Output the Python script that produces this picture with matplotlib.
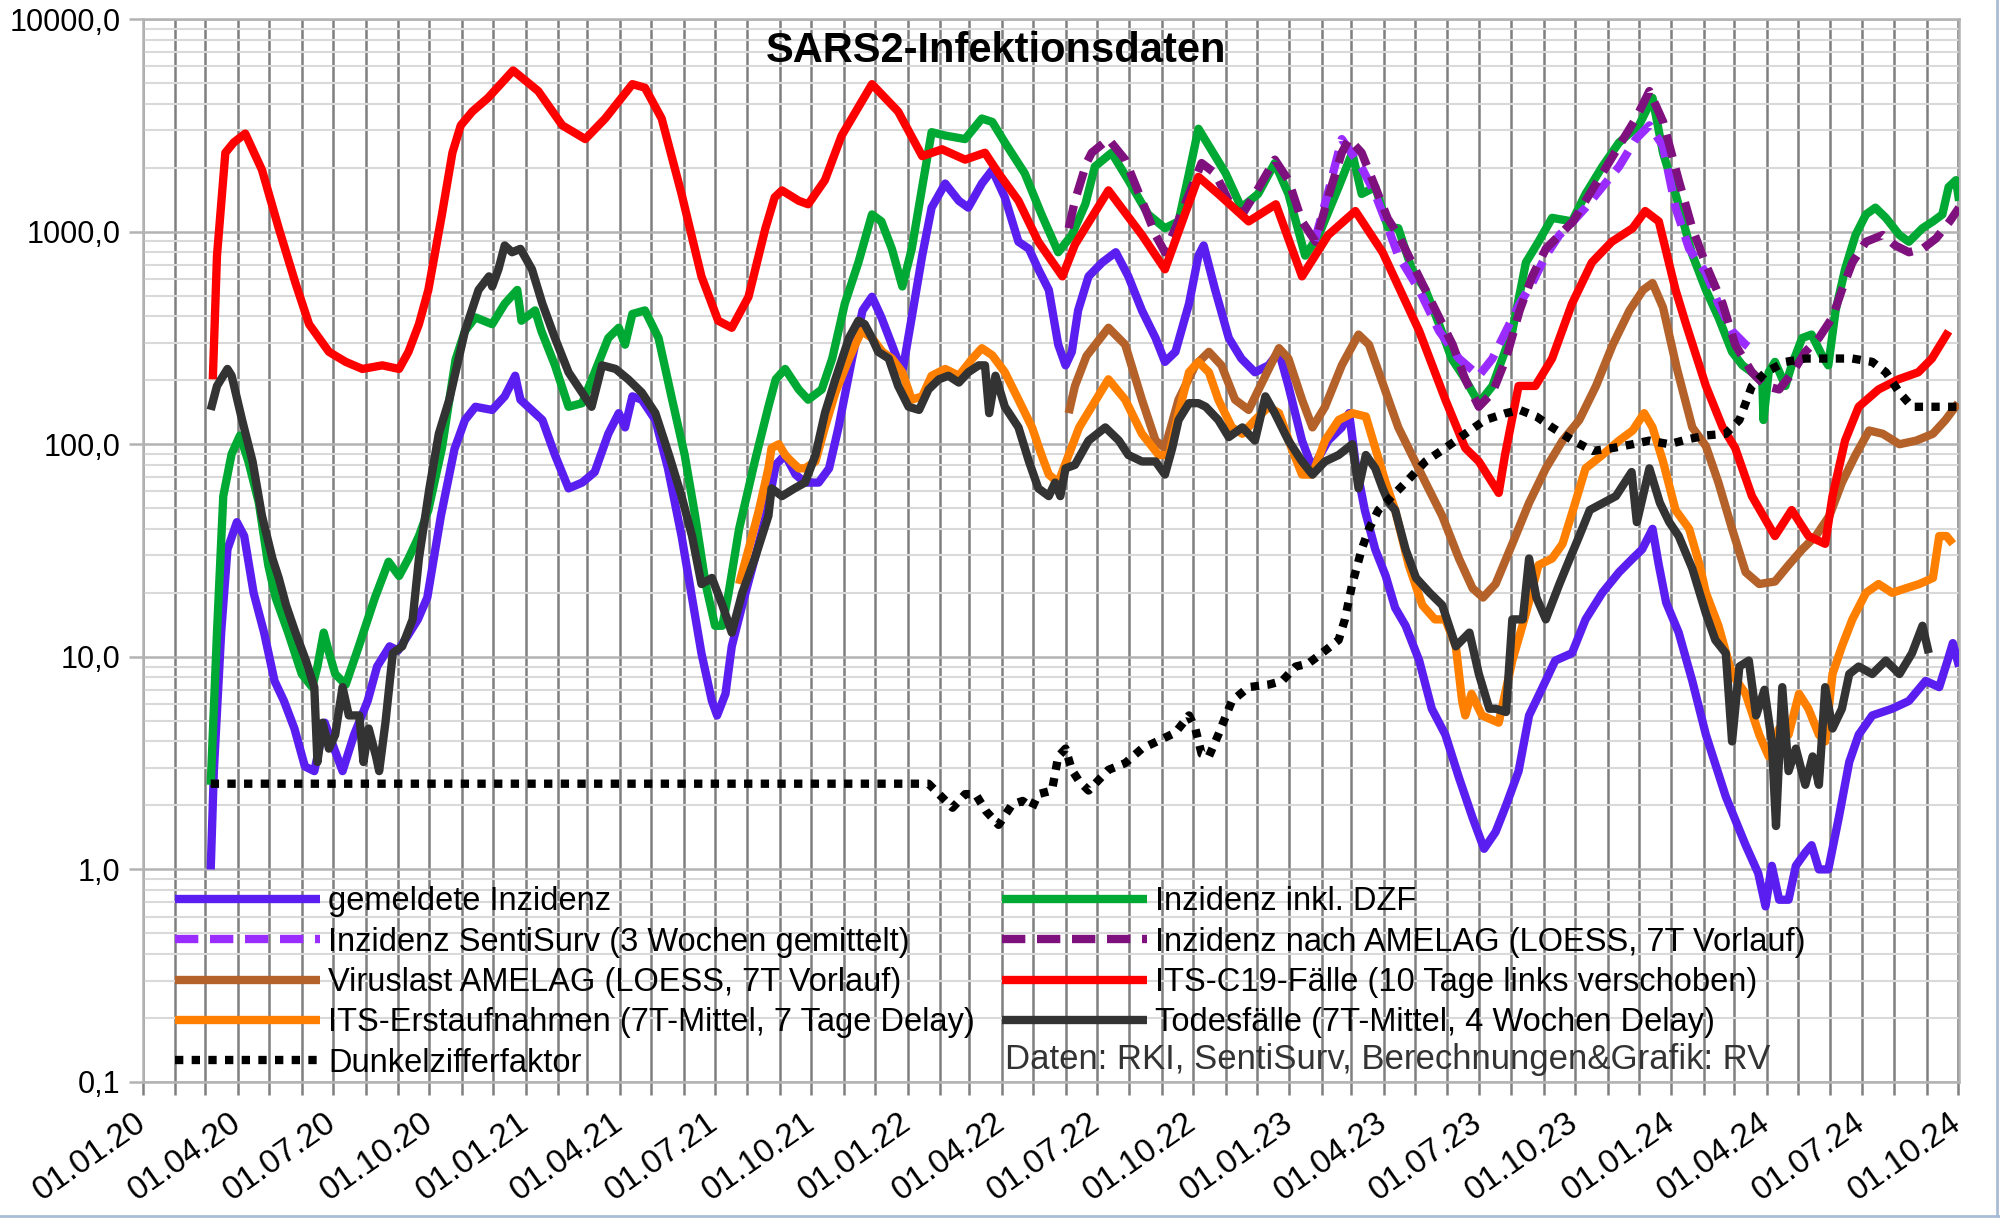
import numpy as np
import matplotlib
matplotlib.use('Agg')
import matplotlib.pyplot as plt
import matplotlib.dates as mdates
from matplotlib.ticker import LogLocator, FuncFormatter, NullFormatter
from matplotlib.lines import Line2D

# ---------------- data (x = days since 01.01.2020) ----------------
gemeldet_day = [65, 68, 75, 81, 90, 97, 106, 116, 126, 135, 145, 155, 164, 174, 183, 191, 202, 215, 224, 236, 244, 253, 263, 272, 285, 298, 308, 318, 334, 346, 356, 361, 382, 394, 407, 420, 432, 445, 455, 461, 468, 477, 490, 502, 515, 525, 534, 544, 549, 557, 563, 573, 585, 597, 605, 614, 624, 633, 646, 656, 665, 678, 688, 697, 706, 716, 726, 735, 745, 754, 767, 780, 789, 802, 812, 824, 837, 847, 856, 866, 875, 882, 888, 894, 904, 917, 930, 942, 955, 968, 977, 987, 1000, 1009, 1014, 1025, 1038, 1050, 1063, 1076, 1086, 1095, 1108, 1118, 1133, 1146, 1153, 1159, 1168, 1178, 1188, 1197, 1207, 1220, 1232, 1245, 1258, 1271, 1282, 1293, 1303, 1315, 1325, 1338, 1350, 1366, 1379, 1395, 1411, 1424, 1433, 1443, 1449, 1456, 1468, 1481, 1494, 1513, 1532, 1544, 1551, 1557, 1564, 1573, 1580, 1589, 1595, 1602, 1611, 1621, 1631, 1640, 1653, 1672, 1688, 1704, 1717, 1725, 1730, 1736]
gemeldet_val = [1.0, 2.9, 13, 32, 43, 37, 20, 13, 7.7, 6.2, 4.6, 3.05, 2.9, 4.9, 3.7, 2.9, 4.3, 6.2, 9.0, 11.2, 10.7, 12.5, 15, 19, 46, 95, 130, 150, 145, 168, 210, 162, 130, 89, 62, 66, 74, 112, 140, 120, 168, 162, 130, 77, 37, 19, 10.4, 6.2, 5.3, 6.7, 11.2, 17.5, 29, 49, 80, 89, 72, 66, 66, 77, 120, 253, 426, 494, 395, 294, 218, 395, 771, 1297, 1683, 1397, 1297, 1683, 1951, 1449, 896, 830, 665, 532, 294, 235, 272, 426, 616, 716, 800, 616, 426, 316, 244, 272, 458, 771, 861, 532, 316, 253, 218, 235, 272, 188, 104, 77, 104, 120, 140, 83, 49, 32, 24, 17, 14, 9.6, 5.7, 4.3, 2.7, 1.75, 1.25, 1.5, 2.0, 2.9, 5.3, 7.2, 9.6, 10.4, 15, 20, 25, 29, 32, 40, 27, 18, 13, 7.7, 4.3, 2.2, 1.3, 0.96, 0.67, 1.04, 0.72, 0.72, 1.04, 1.2, 1.3, 1.0, 1.0, 1.75, 3.2, 4.3, 5.3, 5.7, 6.2, 7.7, 7.2, 9.6, 11.6, 9.0]

dzf_day = [65, 71, 77, 85, 93, 101, 111, 120, 127, 139, 152, 162, 167, 173, 178, 184, 194, 206, 222, 235, 245, 254, 264, 273, 286, 299, 308, 318, 334, 346, 358, 362, 375, 381, 394, 407, 420, 432, 445, 455, 461, 468, 480, 493, 506, 518, 528, 538, 547, 554, 560, 570, 585, 598, 605, 614, 627, 636, 649, 659, 671, 684, 697, 706, 716, 726, 735, 745, 754, 767, 786, 802, 812, 824, 843, 859, 875, 888, 901, 910, 926, 942, 961, 977, 990, 1000, 1009, 1019, 1035, 1050, 1066, 1082, 1095, 1111, 1124, 1143, 1156, 1165, 1178, 1190, 1200, 1213, 1226, 1239, 1251, 1264, 1277, 1290, 1309, 1322, 1334, 1347, 1366, 1379, 1395, 1411, 1430, 1443, 1453, 1465, 1481, 1494, 1506, 1519, 1529, 1538, 1548, 1549, 1554, 1560, 1570, 1576, 1586, 1595, 1605, 1611, 1618, 1627, 1637, 1647, 1656, 1666, 1679, 1688, 1701, 1711, 1720, 1726, 1733, 1736]
dzf_val = [2.5, 13, 57, 90, 110, 83, 53, 27, 19, 13, 8.3, 7.2, 9, 13, 10.5, 8.3, 7.4, 11, 19, 28, 24, 29, 37, 49, 96, 250, 341, 395, 367, 458, 532, 381, 426, 341, 235, 150, 156, 218, 316, 353, 294, 410, 426, 316, 162, 89, 46, 22, 14, 14, 20, 40, 83, 150, 202, 226, 181, 162, 181, 253, 458, 716, 1205, 1117, 830, 552, 830, 1622, 2937, 2831, 2725, 3404, 3280, 2626, 1880, 1205, 800, 964, 1350, 2023, 2350, 1746, 1205, 1038, 1117, 1880, 3048, 2530, 1880, 1297, 1504, 2102, 1504, 771, 964, 1622, 2350, 1504, 1622, 1050, 1038, 665, 532, 367, 253, 202, 156, 188, 341, 716, 896, 1161, 1117, 1504, 2023, 2626, 3162, 4256, 2350, 1504, 780, 532, 395, 272, 235, 218, 195, 130, 218, 244, 188, 235, 316, 328, 262, 235, 426, 665, 964, 1205, 1297, 1161, 964, 896, 1038, 1117, 1205, 1622, 1746, 1397]

sentisurv_day = [1120, 1134, 1146, 1165, 1178, 1188, 1200, 1220, 1239, 1258, 1277, 1290, 1303, 1316, 1328, 1341, 1354, 1367, 1379, 1395, 1411, 1427, 1440, 1453, 1465, 1478, 1494, 1506, 1519, 1532, 1541]
sentisurv_val = [900, 1600, 2725, 2000, 1500, 1117, 771, 532, 341, 253, 210, 253, 341, 458, 573, 771, 964, 1117, 1297, 1622, 2023, 2725, 3162, 2530, 1297, 830, 640, 458, 341, 294, 272]

amelag_inz_day = [885, 891, 902, 907, 923, 939, 955, 968, 977, 987, 1000, 1012, 1025, 1038, 1051, 1067, 1082, 1095, 1108, 1121, 1134, 1146, 1153, 1165, 1178, 1190, 1200, 1213, 1226, 1239, 1252, 1264, 1277, 1290, 1303, 1316, 1328, 1341, 1354, 1367, 1379, 1395, 1411, 1427, 1440, 1453, 1468, 1481, 1494, 1510, 1522, 1538, 1551, 1564, 1577, 1589, 1602, 1615, 1624, 1634, 1647, 1663, 1675, 1688, 1701, 1714, 1727, 1736]
amelag_inz_val = [1038, 1400, 2102, 2350, 2725, 2181, 1397, 964, 800, 1038, 1504, 2102, 1880, 1397, 1205, 1622, 2181, 1746, 1117, 896, 1504, 2350, 2725, 2350, 1622, 1150, 964, 716, 532, 395, 294, 202, 150, 175, 253, 426, 616, 830, 964, 1117, 1397, 1880, 2530, 3404, 4585, 3300, 1746, 1038, 700, 458, 294, 218, 188, 181, 218, 272, 316, 395, 532, 716, 896, 964, 861, 800, 830, 929, 1117, 1297]

viruslast_day = [885, 891, 902, 923, 939, 955, 968, 977, 990, 1006, 1019, 1031, 1044, 1057, 1073, 1086, 1095, 1108, 1118, 1130, 1146, 1162, 1172, 1186, 1200, 1213, 1226, 1242, 1258, 1271, 1281, 1293, 1309, 1325, 1341, 1357, 1373, 1389, 1405, 1421, 1434, 1443, 1453, 1466, 1481, 1494, 1506, 1519, 1532, 1545, 1560, 1573, 1586, 1599, 1612, 1624, 1637, 1650, 1663, 1679, 1695, 1711, 1723, 1735]
viruslast_val = [140, 188, 260, 353, 294, 162, 104, 96, 162, 235, 272, 235, 162, 145, 210, 283, 253, 162, 120, 150, 235, 328, 294, 188, 120, 89, 66, 46, 29, 21, 19, 22, 34, 53, 77, 104, 130, 188, 294, 426, 532, 573, 440, 230, 120, 98, 66, 40, 25, 22, 22.6, 27, 32, 37, 46, 66, 89, 116, 112, 100, 104, 112, 130, 156]

its_day = [67, 71, 79, 87, 98, 114, 130, 146, 159, 178, 194, 210, 229, 245, 254, 264, 273, 286, 296, 304, 315, 330, 354, 378, 401, 423, 442, 468, 480, 496, 515, 534, 550, 563, 579, 595, 604, 611, 627, 636, 652, 668, 697, 722, 745, 764, 786, 805, 818, 837, 856, 879, 891, 923, 955, 977, 1009, 1028, 1057, 1083, 1108, 1133, 1159, 1185, 1220, 1245, 1264, 1277, 1296, 1302, 1315, 1331, 1347, 1366, 1385, 1404, 1424, 1436, 1449, 1465, 1475, 1494, 1510, 1522, 1538, 1560, 1576, 1592, 1608, 1615, 1627, 1640, 1659, 1678, 1697, 1710, 1726]
its_val = [202, 771, 2350, 2626, 2893, 1951, 1038, 573, 367, 272, 244, 226, 235, 226, 272, 367, 532, 1205, 2350, 3162, 3672, 4256, 5730, 4585, 3162, 2725, 3404, 4940, 4755, 3404, 1504, 616, 381, 353, 494, 1030, 1450, 1563, 1397, 1345, 1746, 2831, 4940, 3672, 2265, 2440, 2181, 2350, 1880, 1397, 896, 616, 870, 1563, 964, 665, 1811, 1504, 1117, 1345, 616, 964, 1250, 800, 341, 162, 96, 83, 59, 89, 188, 188, 253, 458, 716, 896, 1038, 1250, 1117, 532, 367, 188, 120, 96, 57, 37, 49, 37, 34, 57, 104, 150, 181, 202, 218, 253, 340]

its_neu_day = [570, 579, 589, 598, 601, 608, 614, 620, 627, 633, 643, 652, 662, 675, 687, 697, 707, 716, 726, 735, 745, 754, 767, 780, 793, 802, 812, 824, 837, 850, 859, 866, 875, 885, 895, 907, 923, 939, 955, 971, 981, 990, 1000, 1009, 1019, 1028, 1041, 1051, 1063, 1076, 1086, 1098, 1108, 1118, 1130, 1143, 1156, 1169, 1178, 1188, 1197, 1210, 1223, 1235, 1245, 1255, 1261, 1264, 1270, 1280, 1296, 1309, 1322, 1334, 1347, 1357, 1367, 1379, 1395, 1411, 1424, 1435, 1443, 1453, 1465, 1478, 1488, 1494, 1506, 1519, 1532, 1545, 1554, 1564, 1573, 1583, 1592, 1602, 1608, 1615, 1624, 1634, 1647, 1659, 1672, 1685, 1698, 1711, 1717, 1724, 1730]
its_neu_val = [22, 32, 49, 77, 96, 100, 89, 83, 77, 77, 83, 120, 175, 253, 341, 316, 272, 253, 218, 162, 168, 210, 226, 210, 253, 283, 262, 218, 162, 120, 89, 72, 66, 89, 120, 150, 202, 162, 112, 89, 89, 140, 218, 244, 218, 162, 120, 112, 130, 150, 140, 96, 72, 72, 104, 130, 140, 135, 96, 66, 49, 27, 17.5, 15, 15, 11.2, 6.2, 5.3, 6.7, 5.3, 4.9, 9.6, 16, 27, 29, 34, 49, 77, 89, 104, 116, 140, 120, 83, 49, 40, 27, 20, 14, 8.3, 6.7, 4.3, 3.4, 4.6, 4.3, 6.7, 5.7, 4.3, 4.0, 8.3, 11.2, 15, 20, 22, 20, 21, 22, 23.5, 37, 37, 34]

tod_day = [65, 71, 81, 85, 95, 105, 114, 124, 130, 137, 146, 156, 164, 167, 172, 178, 184, 191, 197, 207, 211, 216, 223, 226, 232, 239, 248, 258, 264, 274, 283, 293, 299, 308, 321, 331, 334, 340, 346, 353, 361, 372, 382, 394, 407, 420, 429, 439, 452, 464, 477, 490, 503, 515, 525, 534, 544, 554, 563, 573, 585, 598, 601, 611, 623, 633, 643, 652, 662, 675, 684, 690, 697, 703, 713, 722, 732, 742, 751, 761, 770, 780, 789, 799, 805, 809, 815, 824, 837, 847, 856, 866, 872, 877, 882, 891, 904, 920, 933, 942, 955, 968, 977, 984, 990, 1000, 1009, 1016, 1028, 1038, 1051, 1063, 1073, 1082, 1095, 1108, 1118, 1130, 1143, 1156, 1162, 1169, 1178, 1185, 1191, 1197, 1207, 1217, 1230, 1242, 1255, 1268, 1277, 1287, 1293, 1303, 1309, 1319, 1325, 1332, 1341, 1354, 1364, 1373, 1383, 1396, 1408, 1423, 1428, 1440, 1450, 1459, 1468, 1481, 1494, 1503, 1513, 1519, 1526, 1535, 1542, 1550, 1557, 1561, 1567, 1573, 1580, 1589, 1596, 1602, 1608, 1615, 1624, 1631, 1640, 1653, 1666, 1679, 1691, 1701, 1707]
tod_val = [145, 188, 226, 210, 130, 83, 46, 29, 23.5, 17.5, 13, 9.6, 7.2, 3.2, 4.9, 3.7, 4.3, 7.2, 5.3, 5.3, 3.2, 4.6, 3.4, 2.9, 4.9, 10.4, 11.2, 15, 29, 62, 112, 162, 218, 341, 532, 616, 552, 665, 861, 800, 830, 665, 458, 316, 218, 175, 150, 235, 226, 202, 175, 140, 89, 57, 37, 22, 23.5, 17.5, 13, 20, 29, 46, 62, 57, 62, 66, 89, 140, 202, 316, 381, 367, 316, 272, 253, 188, 150, 145, 181, 202, 210, 195, 218, 235, 235, 140, 210, 150, 120, 83, 62, 57, 66, 57, 77, 80, 104, 120, 104, 89, 83, 83, 72, 96, 130, 156, 156, 150, 130, 108, 120, 104, 168, 140, 104, 83, 72, 83, 89, 100, 62, 89, 77, 62, 53, 49, 32, 23.5, 20, 17.5, 11.2, 13, 8.3, 5.7, 5.7, 5.5, 15, 15, 29, 19, 15, 22, 29, 37, 49, 53, 57, 74, 43, 77, 53, 43, 37, 26, 16, 12, 10.4, 4.0, 9.0, 9.6, 5.3, 7.0, 4.0, 1.6, 7.2, 2.9, 3.7, 2.5, 3.4, 2.5, 7.2, 4.6, 5.7, 8.3, 9.0, 8.3, 9.6, 8.3, 10.4, 14, 10.4]

dzf_faktor_day = [65, 751, 761, 774, 786, 796, 806, 818, 831, 841, 850, 856, 869, 875, 882, 888, 895, 904, 923, 939, 955, 974, 987, 1000, 1006, 1012, 1019, 1028, 1041, 1057, 1076, 1089, 1102, 1114, 1127, 1143, 1149, 1156, 1165, 1172, 1181, 1191, 1207, 1226, 1245, 1264, 1283, 1303, 1316, 1332, 1347, 1367, 1386, 1405, 1424, 1440, 1459, 1475, 1494, 1513, 1526, 1538, 1551, 1570, 1589, 1615, 1634, 1653, 1666, 1679, 1691, 1711, 1736]
dzf_faktor_val = [2.53, 2.53, 2.26, 1.95, 2.26, 2.26, 1.88, 1.62, 2.02, 2.1, 1.95, 2.26, 2.35, 3.4, 3.7, 2.94, 2.6, 2.35, 2.94, 3.16, 3.7, 4.1, 4.4, 5.3, 4.6, 3.5, 3.4, 4.3, 6.2, 7.2, 7.4, 7.7, 9.0, 9.3, 10.4, 12, 15, 22, 32, 40, 49, 55, 66, 83, 96, 112, 130, 140, 145, 135, 120, 104, 93, 96, 100, 104, 100, 105, 110, 112, 130, 188, 218, 244, 253, 253, 253, 244, 218, 175, 150, 150, 150]

y_ticks = [0.1, 1, 10, 100, 1000, 10000]
title = 'SARS2-Infektionsdaten'
source = 'Daten: RKI, SentiSurv, Berechnungen&Grafik: RV'

# ---------------- styling ----------------
plt.rcParams['font.family'] = ['Liberation Sans', 'DejaVu Sans']

start = np.datetime64('2020-01-01')


def to_dates(days):
    return start + np.array(days, dtype='timedelta64[D]')


fig = plt.figure(figsize=(20, 12.18), dpi=100)
ax = fig.add_axes([0.07135, 0.11166, 0.9082, 0.8727])
ax.set_yscale('log')
ax.set_ylim(0.1, 10000)
ax.set_xlim(np.datetime64('2020-01-01'), np.datetime64('2024-10-02'))

LW = 6.0
DASH = (0, (2.8, 1.4))
DOT = (0, (1, 1))
series = [
    ('gemeldete Inzidenz', gemeldet_day, gemeldet_val, '#5a1ff0', '-'),
    ('Inzidenz inkl. DZF', dzf_day, dzf_val, '#00a933', '-'),
    ('Inzidenz SentiSurv (3 Wochen gemittelt)', sentisurv_day, sentisurv_val, '#9a2cff', DASH),
    ('Inzidenz nach AMELAG (LOESS, 7T Vorlauf)', amelag_inz_day, amelag_inz_val, '#7f117f', DASH),
    ('Viruslast AMELAG (LOESS, 7T Vorlauf)', viruslast_day, viruslast_val, '#b4612a', '-'),
    ('ITS-C19-Fälle (10 Tage links verschoben)', its_day, its_val, '#ff0000', '-'),
    ('ITS-Erstaufnahmen (7T-Mittel, 7 Tage Delay)', its_neu_day, its_neu_val, '#ff8000', '-'),
    ('Todesfälle (7T-Mittel, 4 Wochen Delay)', tod_day, tod_val, '#333333', '-'),
    ('Dunkelzifferfaktor', dzf_faktor_day, dzf_faktor_val, '#000000', DOT),
]

handles = {}
for label, d, v, c, ls in series:
    ln, = ax.plot(to_dates(d), v, color=c, lw=LW, linestyle=ls,
                  solid_joinstyle='round', solid_capstyle='butt', dash_capstyle='butt',
                  label=label, zorder=3)
    handles[label] = ln

# ticks / grid
ax.xaxis.set_major_locator(mdates.MonthLocator(bymonth=(1, 4, 7, 10)))
ax.xaxis.set_minor_locator(mdates.MonthLocator())
ax.xaxis.set_major_formatter(mdates.DateFormatter('%d.%m.%y'))
ax.set_yticks(y_ticks)
ax.yaxis.set_minor_locator(LogLocator(base=10, subs=np.arange(2, 10), numticks=20))
ax.yaxis.set_minor_formatter(NullFormatter())
ax.yaxis.set_major_formatter(FuncFormatter(lambda v, p: f'{v:.1f}'.replace('.', ',')))

ax.grid(which='major', axis='x', color='#7f7f7f', lw=1.8, zorder=0)
ax.grid(which='minor', axis='x', color='#7f7f7f', lw=1.8, zorder=0)
ax.grid(which='major', axis='y', color='#b3b3b3', lw=1.8, zorder=0)
ax.grid(which='minor', axis='y', color='#d9d9d9', lw=1.5, zorder=0)
ax.set_axisbelow(True)

for s in ax.spines.values():
    s.set_color('#b3b3b3')
    s.set_linewidth(1.8)

ax.tick_params(axis='y', which='major', length=10, width=1.8, color='#b3b3b3',
               labelsize=22, pad=6)
ax.tick_params(axis='y', which='minor', length=0)
ax.tick_params(axis='x', which='both', length=9.5, width=1.8, color='#7f7f7f',
               labelsize=24, pad=18)
for lab in ax.get_xticklabels():
    lab.set_rotation(35)
    lab.set_ha('right')
    lab.set_va('center')
    lab.set_rotation_mode('anchor')

# title and source
ax.text(0.470, 0.970, title, transform=ax.transAxes, ha='center', va='center',
        fontsize=30, fontweight='bold', zorder=5)
ax.text(0.475, 0.0207, source, transform=ax.transAxes, ha='left', va='center',
        fontsize=25, color='#333333', zorder=5)

# legends (two columns)
left_labels = ['gemeldete Inzidenz', 'Inzidenz SentiSurv (3 Wochen gemittelt)',
               'Viruslast AMELAG (LOESS, 7T Vorlauf)',
               'ITS-Erstaufnahmen (7T-Mittel, 7 Tage Delay)', 'Dunkelzifferfaktor']
right_labels = ['Inzidenz inkl. DZF', 'Inzidenz nach AMELAG (LOESS, 7T Vorlauf)',
                'ITS-C19-Fälle (10 Tage links verschoben)',
                'Todesfälle (7T-Mittel, 4 Wochen Delay)']
common = dict(frameon=False, fontsize=23.5, handlelength=4.45, handletextpad=0.25,
              labelspacing=0.285, borderpad=0, borderaxespad=0, loc='upper left')
leg1 = ax.legend([handles[l] for l in left_labels], left_labels,
                 bbox_to_anchor=(0.0178, 0.1840), **common)
ax.add_artist(leg1)
leg2 = ax.legend([handles[l] for l in right_labels], right_labels,
                 bbox_to_anchor=(0.473, 0.1840), **common)
for lg in (leg1, leg2):
    lg.set_zorder(6)

# thin frame at bottom/right of the image
fig.add_artist(Line2D([0, 1], [0.0015, 0.0015], transform=fig.transFigure,
                      color='#a9bcd6', lw=2))
fig.add_artist(Line2D([0.9985, 0.9985], [0, 1], transform=fig.transFigure,
                      color='#a9bcd6', lw=2))

fig.savefig('out.png', dpi=100, facecolor='white')
